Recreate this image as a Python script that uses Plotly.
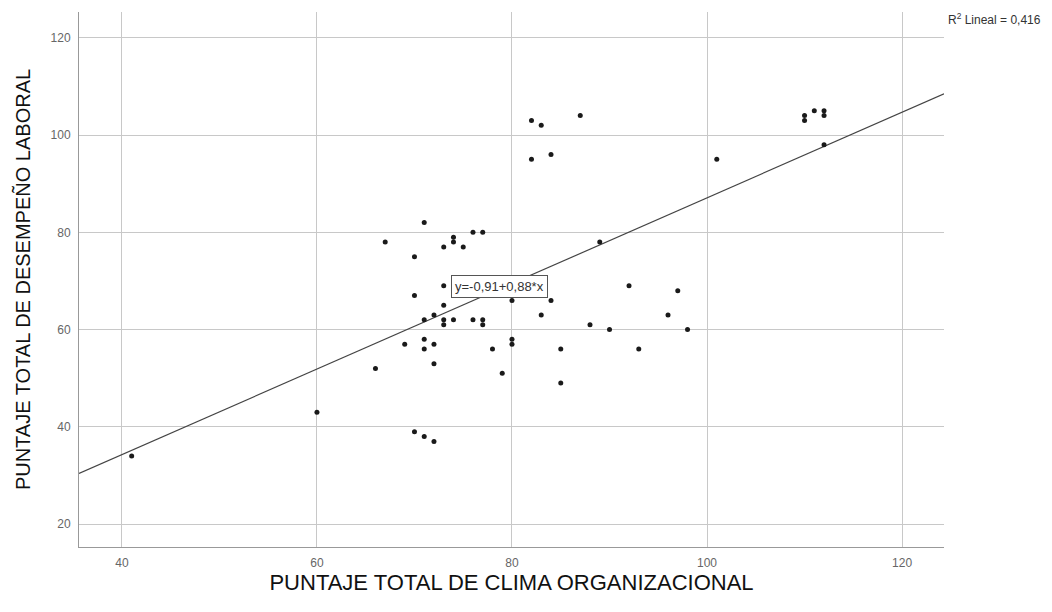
import plotly.graph_objects as go

# Puntaje total de clima organizacional (x) y de desempeño laboral (y)
clima = [41, 60, 66, 67, 69, 70, 70, 70, 71, 71, 71, 71, 71, 72, 72, 72, 72,
         73, 73, 73, 73, 73, 74, 74, 74, 74, 75, 76, 76, 77, 77, 77, 78, 79,
         80, 80, 80, 82, 82, 83, 83, 84, 84, 85, 85, 87, 88, 89, 90, 92, 93,
         96, 97, 98, 101, 110, 110, 111, 112, 112, 112]
desempeno = [34, 43, 52, 78, 57, 75, 67, 39, 82, 62, 58, 56, 38, 63, 57, 53, 37,
             77, 69, 65, 62, 61, 79, 78, 68, 62, 77, 80, 62, 80, 62, 61, 56, 51,
             66, 58, 57, 103, 95, 102, 63, 96, 66, 56, 49, 104, 61, 78, 60, 69, 56,
             63, 68, 60, 95, 104, 103, 105, 105, 104, 98]

# Ajuste lineal
intercepto = -0.91
pendiente = 0.88
r2 = 0.416

x_range = [35.6, 124.3]
y_range = [15.3, 125.3]
x_ticks = [40, 60, 80, 100, 120]
y_ticks = [20, 40, 60, 80, 100, 120]

fit_x = x_range
fit_y = [intercepto + pendiente * v for v in fit_x]

FONT = "Liberation Sans, Arial, sans-serif"

fig = go.Figure()
fig.add_trace(go.Scatter(
    x=fit_x, y=fit_y, mode="lines",
    line=dict(color="#444444", width=1.2),
    hoverinfo="skip", showlegend=False,
))
fig.add_trace(go.Scatter(
    x=clima, y=desempeno, mode="markers",
    marker=dict(size=5, color="#1a1a1a", line=dict(width=0)),
    showlegend=False,
))

eq_text = ("y=" + f"{intercepto:.2f}".replace(".", ",") + "+"
           + f"{pendiente:.2f}".replace(".", ",") + "*x")
fig.add_annotation(
    x=78.7, y=68.9, xref="x", yref="y",
    text=eq_text, showarrow=False,
    font=dict(family=FONT, size=13, color="#333333"),
    bgcolor="white", bordercolor="#555555", borderwidth=1, borderpad=3,
)
fig.add_annotation(
    x=1.0, y=0.987, xref="paper", yref="paper", xshift=2,
    text="R<sup>2</sup> Lineal = " + f"{r2:.3f}".replace(".", ","),
    showarrow=False, xanchor="left", yanchor="middle",
    font=dict(family=FONT, size=12, color="#333333"),
)

fig.update_layout(
    width=1052, height=612,
    margin=dict(l=79, r=108, t=12, b=65),
    paper_bgcolor="white", plot_bgcolor="white",
    font=dict(family=FONT, color="#222222"),
    xaxis=dict(
        range=x_range, tickvals=x_ticks, showgrid=True, gridcolor="#c8c8c8",
        gridwidth=1, zeroline=False, showline=True, linecolor="#999999",
        linewidth=1, ticks="", ticklabelstandoff=5,
        tickfont=dict(family=FONT, size=12, color="#666666"),
        title=dict(text="PUNTAJE TOTAL DE CLIMA ORGANIZACIONAL",
                   font=dict(family=FONT, size=22, color="#111111"), standoff=0),
    ),
    yaxis=dict(
        range=y_range, tickvals=y_ticks, showgrid=True, gridcolor="#c8c8c8",
        gridwidth=1, zeroline=False, showline=True, linecolor="#999999",
        linewidth=1, ticks="", ticklabelstandoff=5,
        tickfont=dict(family=FONT, size=12, color="#666666"),
        title=dict(text="PUNTAJE TOTAL DE DESEMPEÑO LABORAL",
                   font=dict(family=FONT, size=20, color="#111111"), standoff=14),
    ),
)

fig.write_html("out.html")
